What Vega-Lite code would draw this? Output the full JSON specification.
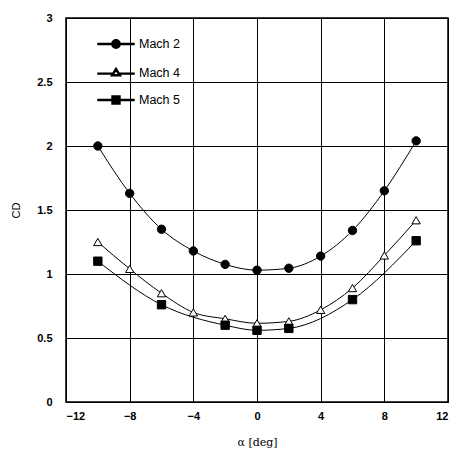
{
  "$schema": "https://vega.github.io/schema/vega-lite/v6.json",
  "width": 382,
  "height": 384,
  "autosize": {"type": "none"},
  "padding": {"left": 66, "top": 18, "right": 11, "bottom": 66},
  "background": "white",
  "config": {
    "view": {"stroke": "black", "strokeWidth": 1.5},
    "axis": {
      "grid": true, "gridColor": "black", "gridWidth": 1, "gridOpacity": 1,
      "domain": false, "ticks": false,
      "labelFont": "Liberation Sans", "labelFontSize": 11, "labelColor": "black", "labelFontWeight": "bold",
      "titleColor": "black", "titleFontWeight": "normal"
    }
  },
  "data": {
    "values": [
      {"series": "Mach 2", "alpha": -10, "cd": 2.0},
      {"series": "Mach 2", "alpha": -8, "cd": 1.63},
      {"series": "Mach 2", "alpha": -6, "cd": 1.35},
      {"series": "Mach 2", "alpha": -4, "cd": 1.18},
      {"series": "Mach 2", "alpha": -2, "cd": 1.075},
      {"series": "Mach 2", "alpha": 0, "cd": 1.03},
      {"series": "Mach 2", "alpha": 2, "cd": 1.045},
      {"series": "Mach 2", "alpha": 4, "cd": 1.14},
      {"series": "Mach 2", "alpha": 6, "cd": 1.34},
      {"series": "Mach 2", "alpha": 8, "cd": 1.65},
      {"series": "Mach 2", "alpha": 10, "cd": 2.04},
      {"series": "Mach 4", "alpha": -10, "cd": 1.25},
      {"series": "Mach 4", "alpha": -8, "cd": 1.04},
      {"series": "Mach 4", "alpha": -6, "cd": 0.85},
      {"series": "Mach 4", "alpha": -4, "cd": 0.70},
      {"series": "Mach 4", "alpha": -2, "cd": 0.65},
      {"series": "Mach 4", "alpha": 0, "cd": 0.615},
      {"series": "Mach 4", "alpha": 2, "cd": 0.63},
      {"series": "Mach 4", "alpha": 4, "cd": 0.72},
      {"series": "Mach 4", "alpha": 6, "cd": 0.89},
      {"series": "Mach 4", "alpha": 8, "cd": 1.145},
      {"series": "Mach 4", "alpha": 10, "cd": 1.42},
      {"series": "Mach 5", "alpha": -10, "cd": 1.10},
      {"series": "Mach 5", "alpha": -6, "cd": 0.76},
      {"series": "Mach 5", "alpha": -2, "cd": 0.60},
      {"series": "Mach 5", "alpha": 0, "cd": 0.56},
      {"series": "Mach 5", "alpha": 2, "cd": 0.575},
      {"series": "Mach 5", "alpha": 6, "cd": 0.80},
      {"series": "Mach 5", "alpha": 10, "cd": 1.26}
    ]
  },
  "encoding": {
    "x": {
      "field": "alpha", "type": "quantitative",
      "scale": {"domain": [-12, 12], "nice": false},
      "axis": {"values": [-12, -8, -4, 0, 4, 8, 12], "labelPadding": 8,
               "title": "α [deg]", "titleFont": "DejaVu Serif", "titleFontSize": 11, "titlePadding": 15}
    },
    "y": {
      "field": "cd", "type": "quantitative",
      "scale": {"domain": [0, 3], "nice": false},
      "axis": {"values": [0, 0.5, 1, 1.5, 2, 2.5, 3], "labelExpr": "toString(datum.value)", "labelPadding": 14,
               "title": "CD", "titleFont": "Liberation Sans", "titleFontSize": 11, "titlePadding": 15}
    }
  },
  "resolve": {"scale": {"shape": "independent"}, "legend": {"shape": "independent"}},
  "layer": [
    {
      "mark": {"type": "line", "color": "black", "strokeWidth": 1, "interpolate": "monotone"},
      "encoding": {"detail": {"field": "series"}}
    },
    {
      "mark": {"type": "point", "stroke": "black", "strokeWidth": 1, "opacity": 1, "size": 70, "filled": false},
      "encoding": {
        "shape": {
          "field": "series", "type": "nominal",
          "scale": {"domain": ["Mach 2", "Mach 4", "Mach 5"], "range": ["circle", "triangle-up", "square"]},
          "legend": null
        },
        "fill": {
          "field": "series", "type": "nominal",
          "scale": {"domain": ["Mach 2", "Mach 4", "Mach 5"], "range": ["black", "white", "black"]},
          "legend": null
        }
      }
    },
    {
      "mark": {"type": "point", "filled": true, "fill": "black", "stroke": "black", "strokeWidth": 1, "opacity": 0, "size": 1},
      "encoding": {
        "shape": {
          "field": "series", "type": "nominal",
          "scale": {"domain": ["Mach 2", "Mach 4", "Mach 5"],
                    "range": [
                      "M-1,-0.025H-0.2V0.025H-1ZM0.2,-0.025H1V0.025H0.2ZM-0.23,0A0.23,0.23,0,1,1,0.23,0A0.23,0.23,0,1,1,-0.23,0Z",
                      "M-1,0.035H-0.2V0.085H-1ZM0.2,0.035H1V0.085H0.2ZM0,-0.24L0.26,0.18L-0.26,0.18ZM0,-0.136L-0.162,0.125L0.162,0.125Z",
                      "M-1,-0.025H-0.2V0.025H-1ZM0.2,-0.025H1V0.025H0.2ZM-0.22,-0.22H0.22V0.22H-0.22Z"
                    ]},
          "legend": {
            "title": null, "orient": "none", "legendX": 31, "legendY": 7,
            "symbolSize": 1296, "symbolOpacity": 1, "symbolFillColor": "black",
            "labelFont": "Liberation Sans", "labelFontSize": 12.5, "labelColor": "black",
            "labelOffset": 4, "rowPadding": 1.5
          }
        }
      }
    }
  ]
}
